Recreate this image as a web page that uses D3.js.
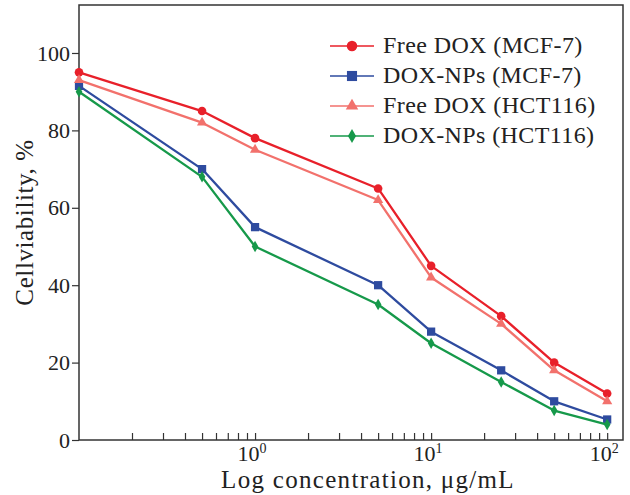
<!DOCTYPE html>
<html>
<head>
<meta charset="utf-8">
<script src="https://cdn.jsdelivr.net/npm/d3@7"></script>
<style>
  body { margin: 0; background: #fff; }
  svg { display: block; }
  text { font-family: "Liberation Serif", "DejaVu Serif", serif; fill: #222; }
</style>
</head>
<body>
<svg id="chart" width="630" height="495"></svg>
<script>
// concentrations (ug/mL)
const concentrations = [0.1, 0.5, 1, 5, 10, 25, 50, 100];

// cell viability, %
const freeDoxMCF7 = [95, 85, 78, 65, 45, 32, 20, 12];
const doxNpsMCF7 = [91.5, 70, 55, 40, 28, 18, 10, 5.3];
const freeDoxHCT116 = [93, 82, 75, 62, 42, 30, 18, 10];
const doxNpsHCT116 = [90, 68, 50, 35, 25, 15, 7.6, 4];

const seriesNames = ["Free DOX (MCF-7)", "DOX-NPs (MCF-7)", "Free DOX (HCT116)", "DOX-NPs (HCT116)"];
const yTicks = [0, 20, 40, 60, 80, 100];
const xMajorTicks = [1, 10, 100];

const series = [
  { name: seriesNames[0], values: freeDoxMCF7, color: "#e8202a", symbol: d3.symbolCircle, size: 58 },
  { name: seriesNames[1], values: doxNpsMCF7, color: "#2e4b9f", symbol: d3.symbolSquare, size: 68 },
  { name: seriesNames[2], values: freeDoxHCT116, color: "#f2716c", symbol: d3.symbolTriangle, size: 45 },
  { name: seriesNames[3], values: doxNpsHCT116, color: "#16994a", symbol: d3.symbolDiamond, size: 38 }
];

const margin = { top: 5, right: 7, bottom: 55, left: 79 };
const width = 630, height = 495;

const svg = d3.select("#chart");

const x = d3.scaleLog()
  .domain([0.1, 123])
  .range([margin.left, width - margin.right]);

const y = d3.scaleLinear()
  .domain([0, 112.4])
  .range([height - margin.bottom, margin.top]);

// minor + major ticks on the x axis, pointing inward
const xTickVals = [];
for (let dec = 0.1; dec < 200; dec *= 10) {
  for (let k = 1; k <= 9; k++) {
    const v = +(dec * k).toPrecision(3);
    if (v > 0.1 && v <= 123) xTickVals.push(v);
  }
}

const xAxis = svg.append("g")
  .attr("transform", `translate(0,${height - margin.bottom})`)
  .call(d3.axisTop(x).tickValues(xTickVals).tickSize(7).tickFormat(""));
xAxis.select(".domain").remove();
xAxis.selectAll("line").attr("stroke", "#333").attr("stroke-width", 1.2);

// decade labels 10^n
const xLabels = svg.append("g");
xMajorTicks.forEach(v => {
  const t = xLabels.append("text")
    .attr("x", x(v) - 3)
    .attr("y", height - margin.bottom + 21)
    .attr("text-anchor", "middle")
    .style("font-size", "22px");
  t.append("tspan").text("10");
  t.append("tspan")
    .attr("dy", -8)
    .style("font-size", "14px")
    .text(Math.round(Math.log10(v)));
});

const yAxis = svg.append("g")
  .attr("transform", `translate(${margin.left},0)`)
  .call(d3.axisLeft(y).tickValues(yTicks).tickSize(7).tickPadding(2));
yAxis.select(".domain").remove();
yAxis.selectAll("line").attr("stroke", "#333").attr("stroke-width", 1.2);
yAxis.selectAll("text")
  .style("font-family", "'Liberation Serif', serif")
  .style("font-size", "22px")
  .attr("fill", "#222");

// frame
svg.append("rect")
  .attr("x", margin.left)
  .attr("y", margin.top)
  .attr("width", width - margin.left - margin.right)
  .attr("height", height - margin.top - margin.bottom)
  .attr("fill", "none")
  .attr("stroke", "#333")
  .attr("stroke-width", 1.5);

// lines and markers
const line = d3.line()
  .x((d, i) => x(concentrations[i]))
  .y(d => y(d));

series.forEach(s => {
  svg.append("path")
    .datum(s.values)
    .attr("fill", "none")
    .attr("stroke", s.color)
    .attr("stroke-width", 2.3)
    .attr("stroke-linejoin", "round")
    .attr("d", line);

  svg.append("g").selectAll("path")
    .data(s.values)
    .enter()
    .append("path")
    .attr("transform", (d, i) => `translate(${x(concentrations[i])},${y(d)})`)
    .attr("d", d3.symbol().type(s.symbol).size(s.size))
    .attr("fill", s.color);
});

// legend
const legend = svg.selectAll(".legend")
  .data(series)
  .enter()
  .append("g")
  .attr("class", "legend")
  .attr("transform", (d, i) => `translate(330, ${46 + i * 30})`);

legend.append("line")
  .attr("x1", 0)
  .attr("x2", 44)
  .attr("stroke", d => d.color)
  .attr("stroke-width", 1.5);

legend.append("path")
  .attr("transform", "translate(22,0)")
  .attr("d", d => d3.symbol().type(d.symbol).size(d.size * 1.5)())
  .attr("fill", d => d.color);

legend.append("text")
  .attr("x", 53)
  .attr("y", 7)
  .style("font-size", "24px")
  .style("letter-spacing", "0.4px")
  .text(d => d.name);

// axis titles
svg.append("text")
  .attr("x", (margin.left + width - margin.right) / 2 + 17)
  .attr("y", 488)
  .attr("text-anchor", "middle")
  .style("font-size", "25px")
  .style("letter-spacing", "1.3px")
  .text("Log concentration, μg/mL");

svg.append("text")
  .attr("transform", `translate(33,${(margin.top + height - margin.bottom) / 2}) rotate(-90)`)
  .attr("text-anchor", "middle")
  .style("font-size", "25px")
  .style("letter-spacing", "0.6px")
  .text("Cellviability, %");
</script>
</body>
</html>
